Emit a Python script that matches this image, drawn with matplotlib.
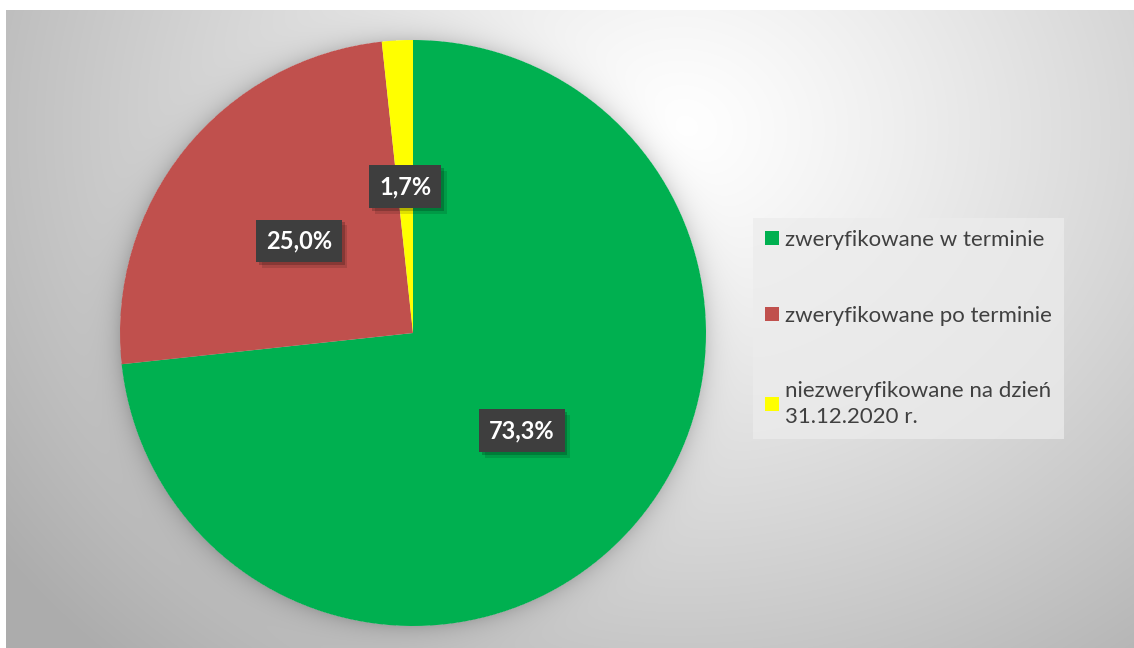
import numpy as np
import matplotlib
matplotlib.use("Agg")
import matplotlib.pyplot as plt
import matplotlib.patheffects as pe

# data
labels = ["zweryfikowane w terminie",
          "zweryfikowane po terminie",
          "niezweryfikowane na dzień\n31.12.2020 r."]
values = [73.3, 25.0, 1.7]
colors = ["#00b050", "#c0504d", "#ffff00"]

plt.rcParams['font.family'] = ['Lato', 'DejaVu Sans']

W, H = 1134, 648
fig = plt.figure(figsize=(W / 100, H / 100), dpi=100, facecolor='white')
ax = fig.add_axes([0, 0, 1, 1])

# pie geometry (pixels, y up)
cx, cy, R = 413, H - 333, 293

# background: radial gradient plus soft shadow around the pie
x0, x1, y0, y1 = 6, W, 0, H - 10
xx, yy = np.meshgrid(np.arange(x0, x1) + 0.5, np.arange(y0, y1) + 0.5)
d = np.sqrt(((xx - 680) / 700) ** 2 + ((yy - (H - 130)) / 600) ** 2)
val = 1.0 - 0.26 * np.clip(d, 0, 1.2) ** 1.2
r = np.sqrt((xx - cx) ** 2 + (yy - cy) ** 2)
shadow = np.where(r > R, 0.13 * np.exp(-(r - R) / 11.0), 0.0)
val = np.clip(val - shadow, 0, 1)
img = np.dstack([val, val, val])
ax.imshow(img, extent=(x0, x1, y0, y1), origin='lower', interpolation='bilinear', zorder=0)

wedges, texts, autotexts = ax.pie(
    values, colors=colors, startangle=90, counterclock=False,
    center=(cx, cy), radius=R, pctdistance=0.5,
    autopct=lambda p: f"{p:.1f}%".replace('.', ','),
    wedgeprops=dict(linewidth=0),
    textprops=dict(color='white', fontsize=17, fontweight='bold'))

for t in autotexts:
    t.set_bbox(dict(boxstyle='square,pad=0.42', fc='#3e3e3e', ec='none', lw=0))
    t.get_bbox_patch().set_path_effects([
        pe.withSimplePatchShadow(offset=(4, -4), shadow_rgbFace='black', alpha=0.12),
        pe.withSimplePatchShadow(offset=(2, -2), shadow_rgbFace='black', alpha=0.2),
        pe.Normal()])

ax.set_xlim(0, W)
ax.set_ylim(0, H)
ax.set_aspect('auto')
ax.axis('off')

leg = fig.legend(wedges, labels, loc='upper left',
                 bbox_to_anchor=(753 / W, 1 - 218 / H),
                 frameon=True, fancybox=False, fontsize=16,
                 labelcolor='#404040', handlelength=0.6, handleheight=0.6,
                 handletextpad=0.3, labelspacing=2.5, borderpad=0.55,
                 borderaxespad=0)
for t in leg.get_texts():
    t.set_linespacing(1.35)
frame = leg.get_frame()
frame.set_facecolor('#ececec')
frame.set_alpha(0.75)
frame.set_edgecolor('none')

fig.savefig('out.png', dpi=100, facecolor='white')
